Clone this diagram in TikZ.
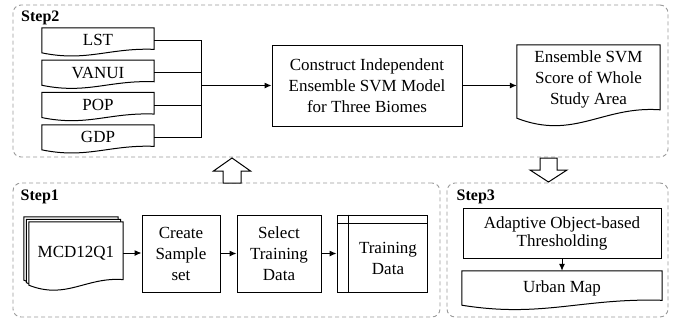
\documentclass[tikz,border=0pt]{standalone}
\usepackage{fontspec}
\setmainfont[Ligatures=TeX]{Liberation Serif}
\usetikzlibrary{calc,arrows.meta,backgrounds}

\tikzset{
  txt/.style={font=\rmfamily\fontsize{17}{21}\selectfont, align=center, inner sep=0pt},
  stepframe/.style={draw=gray!80, dash pattern=on 4pt off 3pt, rounded corners=8pt, line width=0.9pt, inner sep=0pt},
  steplabel/.style={font=\rmfamily\bfseries\fontsize{16}{19}\selectfont, anchor=base west, inner sep=0pt},
  procbox/.style={txt, draw, line width=1pt},
  docnode/.style={txt},
  conn/.style={line width=1pt},
  arr/.style={conn, -{Latex[length=7pt,width=6pt]}},
  hollow/.style={draw, line width=1pt, fill=white, line join=miter}
}

% #1 node, #2 wave amplitude, #3 offset of wave below node south, #4/#5 canvas shift
\newcommand\docwave[5]{%
  \draw[conn,fill=white] let \p1=($(#1.north west)+(#4pt,#5pt)$), \p2=($(#1.south east)+(#4pt,#5pt)$),
    \n1={\x2-\x1}, \n2={\y2-#3pt} in
    (\x1,\y1) -- (\x2,\y1) -- (\x2,\n2+1.4*#2pt)
    .. controls (\x1+0.6*\n1,\n2+2.1*#2pt) and (\x1+0.4*\n1,\n2-3.7*#2pt) .. (\x1,\n2) -- cycle;
}

\begin{document}
\begin{tikzpicture}[x=1pt,y=-1pt]
\useasboundingbox (0,0) rectangle (678,322);

% step frames
\node[stepframe, minimum width=655pt, minimum height=152pt] (step2) at (340.5,81) {};
\node[stepframe, minimum width=427pt, minimum height=134pt] (step1) at (226.5,250) {};
\node[stepframe, minimum width=221pt, minimum height=134pt] (step3) at (557.5,250) {};
\node[steplabel] (lab2) at (21,21.3) {Step2};
\node[steplabel] (lab1) at (20.5,200) {Step1};
\node[steplabel] (lab3) at (456.5,200) {Step3};

% Step2
\node[docnode, minimum width=112pt, minimum height=24.7pt] (lst) at (98,40.3) {LST};
\node[docnode, minimum width=112pt, minimum height=24.7pt] (vanui) at (98,72.7) {VANUI};
\node[docnode, minimum width=112pt, minimum height=24.7pt] (pop) at (98,105) {POP};
\node[docnode, minimum width=112pt, minimum height=24.7pt] (gdp) at (98,137.3) {GDP};
\coordinate (bus) at (201,85.5);
\node[procbox, minimum width=190pt, minimum height=81pt] (construct) at (367,85.5)
  {Construct Independent\\Ensemble SVM Model\\for Three Biomes};
\node[docnode, minimum width=143pt, minimum height=68pt] (esvm) at (588.5,79)
  {Ensemble SVM\\Score of Whole\\Study Area};

% Step1
\node[docnode, minimum width=94pt, minimum height=62pt] (mcd) at (76,253) {MCD12Q1};
\node[procbox, minimum width=78pt, minimum height=77pt] (create) at (181,253.5) {Create\\Sample\\set};
\node[procbox, minimum width=84pt, minimum height=77pt] (select) at (279,253.5) {Select\\Training\\Data};
\node[procbox, minimum width=90pt, minimum height=77pt] (td) at (382,253.5) {};
\node[txt] (tdtext) at (388,258) {Training\\Data};
\draw[conn] ([xshift=12pt]td.north west) -- ([xshift=12pt]td.south west);
\draw[conn] ([yshift=-9pt]td.north west) -- ([yshift=-9pt]td.north east);

% Step3
\node[procbox, minimum width=198pt, minimum height=50pt, font=\rmfamily\fontsize{17}{18}\selectfont] (adaptive) at (562,233)
  {Adaptive Object-based\\Thresholding};
\node[docnode, minimum width=200pt, minimum height=34pt] (urban) at (562,288) {Urban Map};

% document outlines
\begin{scope}[on background layer]
  \docwave{lst}{2.5}{0}{0}{0}
  \docwave{vanui}{2.5}{0}{0}{0}
  \docwave{pop}{2.5}{0}{0}{0}
  \docwave{gdp}{2.5}{0}{0}{0}
  \docwave{esvm}{6}{5}{0}{0}
  \docwave{mcd}{4}{1}{-5}{5}
  \docwave{mcd}{4}{1}{-2.5}{2.5}
  \docwave{mcd}{4}{1}{0}{0}
  \docwave{urban}{3.5}{0}{0}{0}
\end{scope}

% connectors
\draw[conn] (lst.east) -| (bus);
\draw[conn] (vanui.east) -| (bus);
\draw[conn] (pop.east) -| (bus);
\draw[conn] (gdp.east) -| (bus);
\draw[arr] (bus) -- (construct.west);
\draw[arr] (construct.east) -- (construct.east -| esvm.west);
\draw[arr] (mcd.east) -- (mcd.east -| create.west);
\draw[arr] (create.east) -- (select.west);
\draw[arr] (select.east) -- (td.west);
\draw[arr] (adaptive.south) -- (urban.north);

% hollow arrows between steps
\draw[hollow] (232,158) -- (250.5,171) -- (241,171) -- (241,183) -- (223,183) -- (223,171) -- (213.5,171) -- cycle;
\draw[hollow] (548.5,182) -- (567,170) -- (557,170) -- (557,158) -- (540,158) -- (540,170) -- (530,170) -- cycle;
\end{tikzpicture}
\end{document}
